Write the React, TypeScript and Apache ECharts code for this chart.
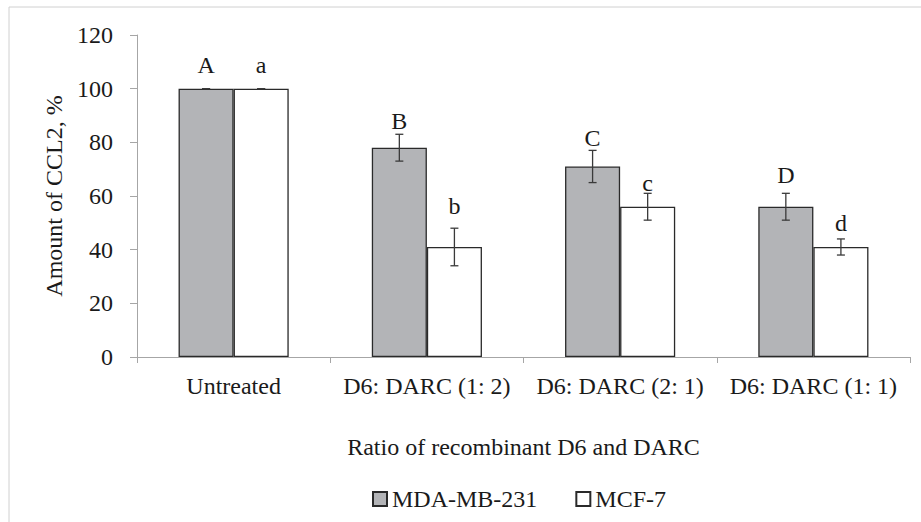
import React, { useEffect, useRef } from "react";
import * as echarts from "echarts";

const categories = ["Untreated", "D6: DARC (1: 2)", "D6: DARC (2: 1)", "D6: DARC (1: 1)"];
const seriesNames = ["MDA-MB-231", "MCF-7"];
const mdaValues = [100, 78, 71, 56];
const mcfValues = [100, 41, 56, 41];
const mdaErrors = [0, 5, 6, 5];
const mcfErrors = [0, 7, 5, 3];
const mdaLetters = ["A", "B", "C", "D"];
const mcfLetters = ["a", "b", "c", "d"];
// baseline height (in % units) of each significance letter
const mdaLetterY = [105.6, 84.7, 78.6, 64.8];
const mcfLetterY = [105.6, 53, 61.7, 46.7];
const yTicks = { min: 0, max: 120, interval: 20 };

const FONT = "'Liberation Serif', 'Times New Roman', serif";
const FS = 24;
const GAP = 0.43;

function errorSeries(name: string, values: number[], errors: number[], letters: string[], letterY: number[], sign: number) {
  return {
    type: "custom",
    name: name + "-err",
    z: 10,
    silent: true,
    encode: { x: 0, y: 1 },
    data: values.map((v, i) => [i, v, errors[i], letterY[i]]),
    renderItem: (params: any, api: any) => {
      const ci = api.value(0);
      const v = api.value(1);
      const e = api.value(2);
      const ly = api.value(3);
      const letter = letters[params.dataIndex];
      const band = api.size([1, 0])[0];
      const barW = (band * (1 - GAP)) / 2;
      const x = api.coord([ci, v])[0] + (sign * barW) / 2;
      const yTop = api.coord([ci, v + e])[1];
      const yBot = api.coord([ci, v - e])[1];
      const yL = api.coord([ci, ly])[1];
      const cap = 4;
      const st = { stroke: "#3a3a3a", lineWidth: 1.3 };
      return {
        type: "group",
        children: [
          { type: "line", shape: { x1: x, y1: yTop, x2: x, y2: yBot }, style: st },
          { type: "line", shape: { x1: x - cap, y1: yTop, x2: x + cap, y2: yTop }, style: st },
          { type: "line", shape: { x1: x - cap, y1: yBot, x2: x + cap, y2: yBot }, style: st },
          {
            type: "text",
            x: x,
            y: yL - FS * 0.35,
            style: {
              text: letter,
              fill: "#1a1a1a",
              font: `${FS}px ${FONT}`,
              align: "center",
              verticalAlign: "middle",
            },
          },
        ],
      };
    },
  };
}

export default function App() {
  const ref = useRef<HTMLDivElement>(null);
  useEffect(() => {
    if (!ref.current) return;
    const chart = echarts.init(ref.current, undefined, { renderer: "svg" });
    chart.setOption({
      animation: false,
      backgroundColor: "#ffffff",
      textStyle: { fontFamily: FONT },
      graphic: [
        {
          type: "rect",
          shape: { x: 9, y: 7, width: 960, height: 600 },
          style: { fill: "none", stroke: "#d0d0d0", lineWidth: 1 },
          z: -1,
        },
      ],
      grid: { left: 137, right: 11, top: 35, bottom: 165 },
      legend: {
        data: seriesNames,
        left: 367,
        top: 482,
        icon: "rect",
        itemWidth: 14,
        itemHeight: 14,
        itemGap: 38,
        textStyle: { fontFamily: FONT, fontSize: FS, color: "#1a1a1a" },
      },
      xAxis: {
        type: "category",
        data: categories,
        name: "Ratio of recombinant D6 and DARC",
        nameLocation: "middle",
        nameGap: 78,
        nameTextStyle: { fontFamily: FONT, fontSize: FS, color: "#1a1a1a" },
        axisLine: { lineStyle: { color: "#a6a6a6", width: 1 } },
        axisTick: { show: true, length: 6, lineStyle: { color: "#a6a6a6" } },
        axisLabel: { fontFamily: FONT, fontSize: FS, color: "#1a1a1a", margin: 17, interval: 0 },
      },
      yAxis: {
        type: "value",
        min: yTicks.min,
        max: yTicks.max,
        interval: yTicks.interval,
        name: "Amount of CCL2, %",
        nameLocation: "middle",
        nameGap: 65,
        nameTextStyle: { fontFamily: FONT, fontSize: FS, color: "#1a1a1a" },
        splitLine: { show: false },
        axisLine: { show: true, lineStyle: { color: "#a6a6a6", width: 1 } },
        axisTick: { show: true, length: 7, lineStyle: { color: "#a6a6a6" } },
        axisLabel: { fontFamily: FONT, fontSize: FS, color: "#1a1a1a", margin: 24 },
      },
      series: [
        {
          type: "bar",
          name: seriesNames[0],
          data: mdaValues,
          barGap: "0%",
          barCategoryGap: GAP * 100 + "%",
          itemStyle: { color: "#b3b4b7", borderColor: "#2a2a2a", borderWidth: 1.3 },
        },
        {
          type: "bar",
          name: seriesNames[1],
          data: mcfValues,
          barGap: "0%",
          barCategoryGap: GAP * 100 + "%",
          itemStyle: { color: "#ffffff", borderColor: "#2a2a2a", borderWidth: 1.3 },
        },
        errorSeries(seriesNames[0], mdaValues, mdaErrors, mdaLetters, mdaLetterY, -1),
        errorSeries(seriesNames[1], mcfValues, mcfErrors, mcfLetters, mcfLetterY, 1),
      ],
    });
    return () => chart.dispose();
  }, []);
  return (
    <div
      ref={ref}
      style={{ position: "fixed", left: 0, top: 0, width: 921, height: 522 }}
    />
  );
}
